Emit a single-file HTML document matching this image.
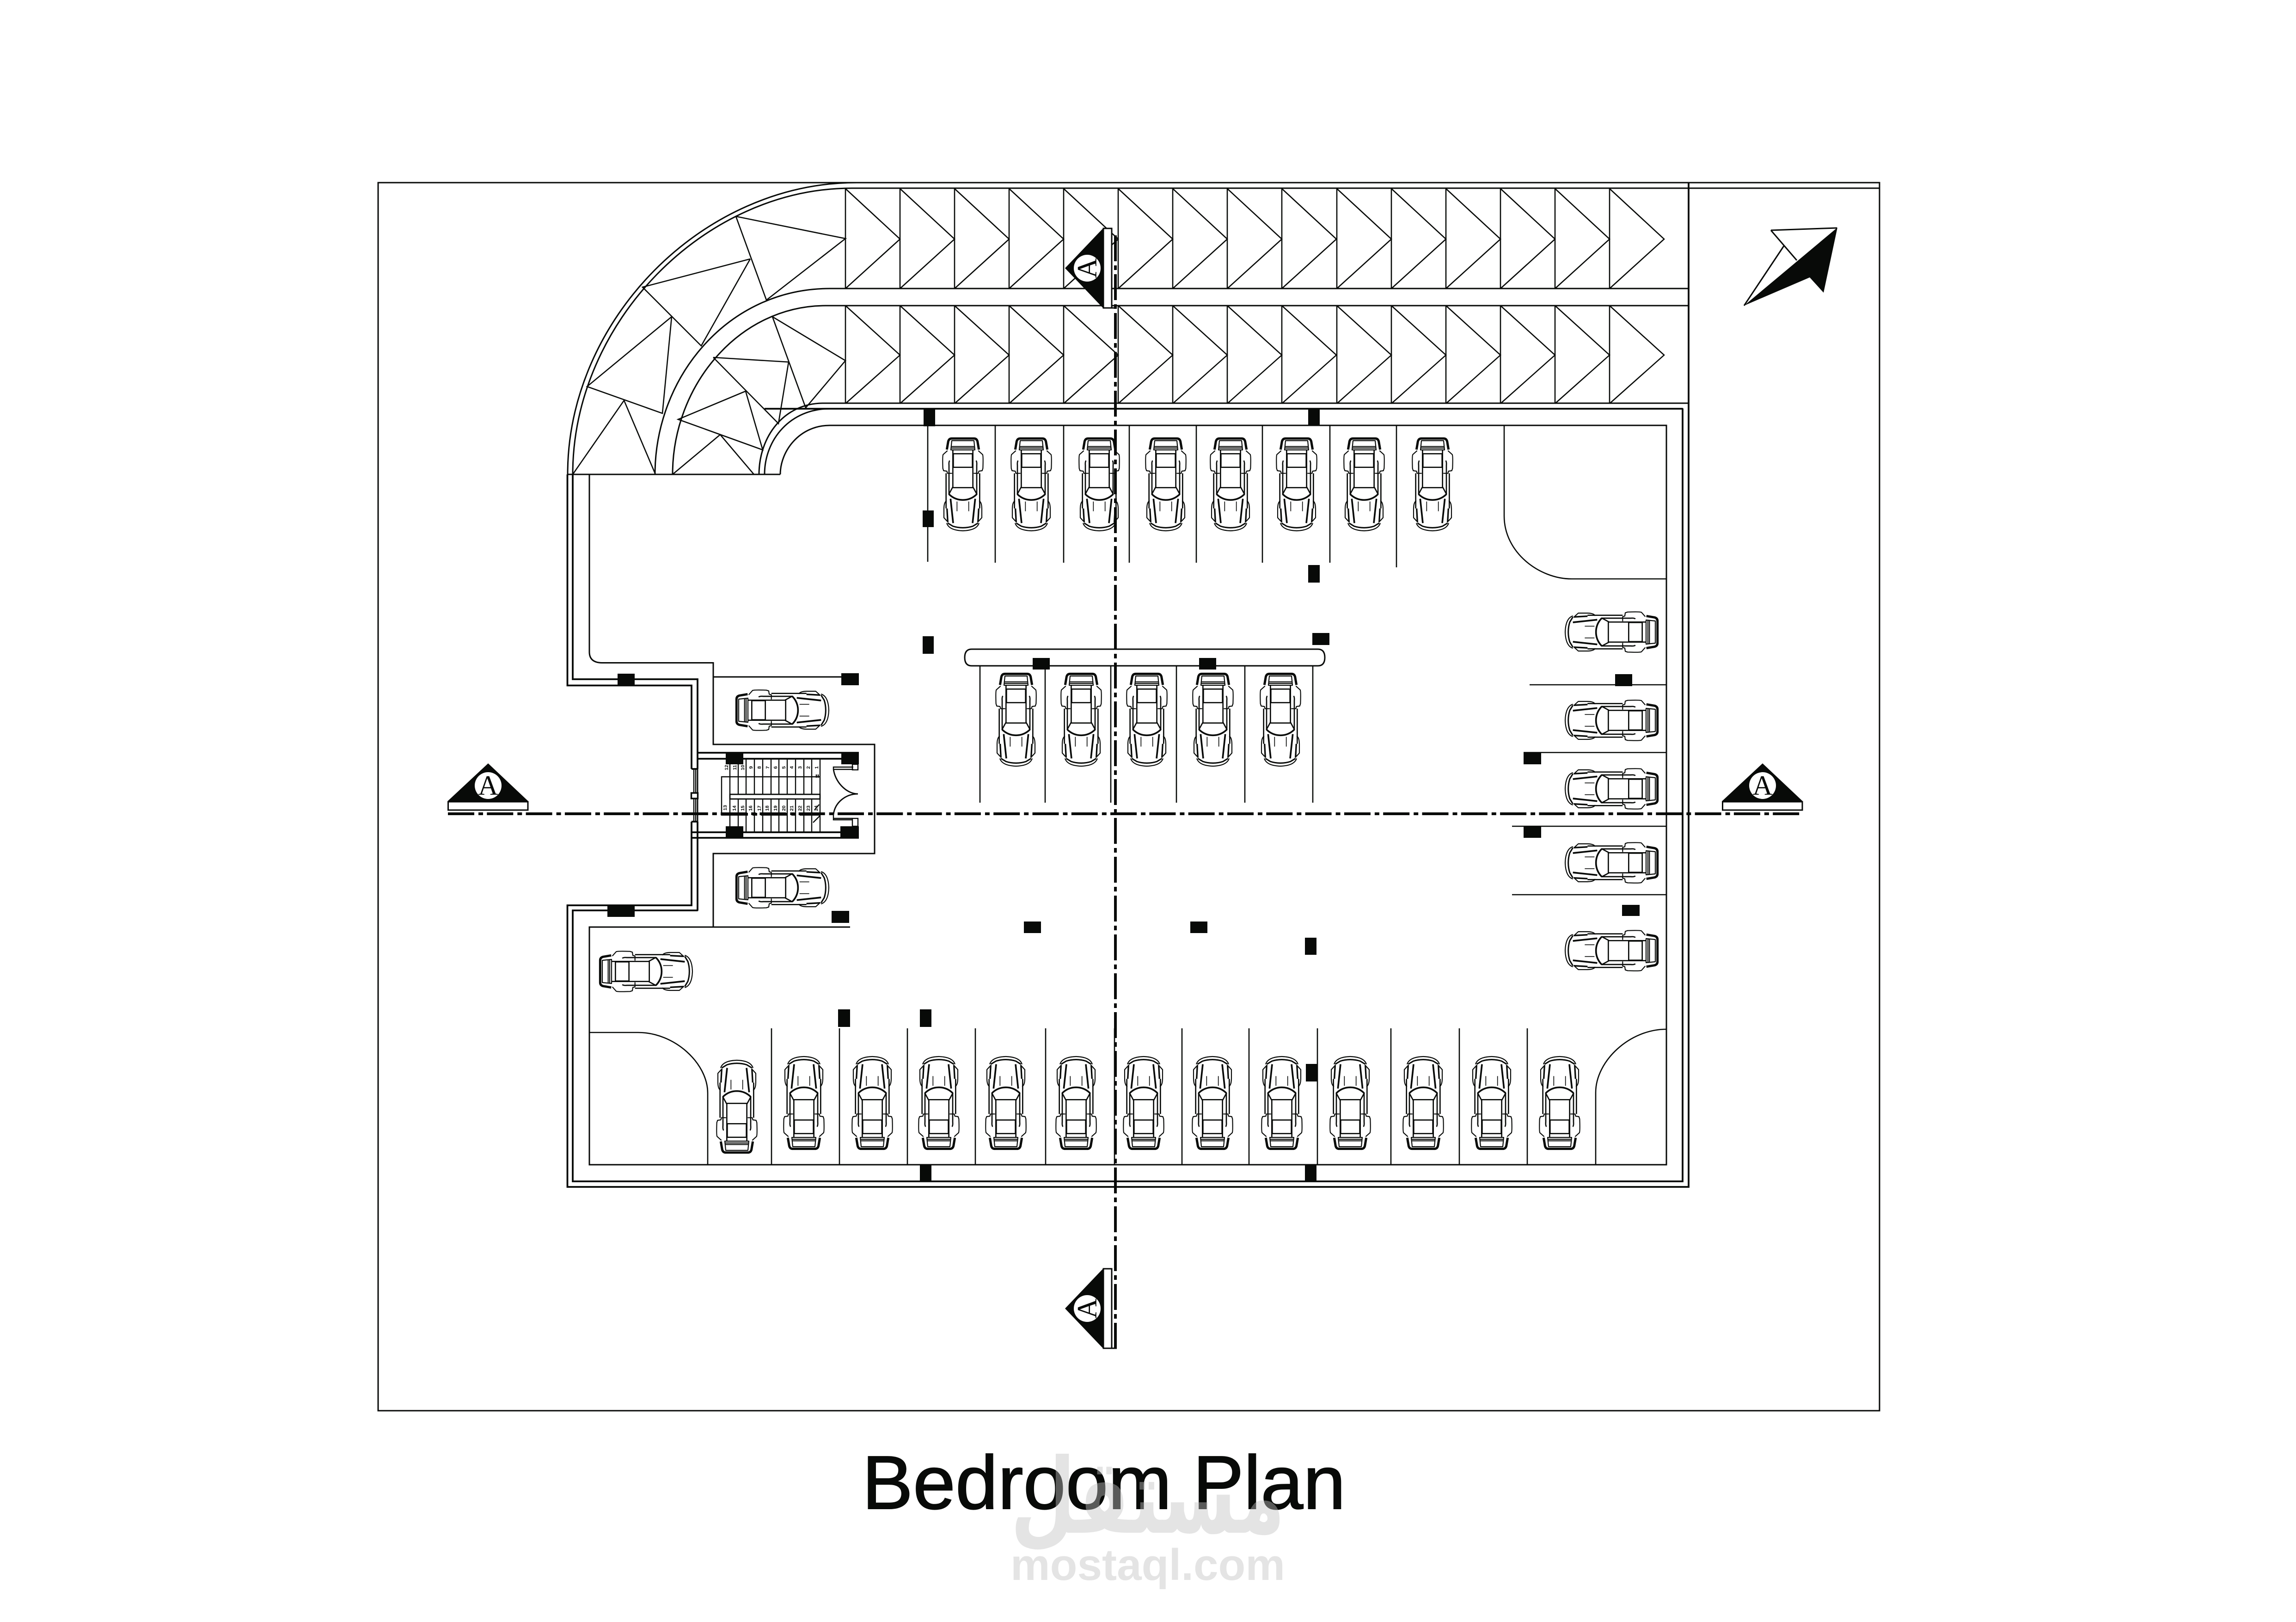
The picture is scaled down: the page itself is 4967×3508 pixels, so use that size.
<!DOCTYPE html>
<html><head><meta charset="utf-8"><style>html,body{margin:0;padding:0;background:#fff}svg{display:block}</style></head><body>
<svg xmlns="http://www.w3.org/2000/svg" width="4967" height="3508" viewBox="0 0 4967 3508">
<defs>
<g id="h" fill="none" stroke="#080a08" stroke-linejoin="round">
<path d="M250,146H178Q160,146 155,165L146,218" stroke-width="15"/>
<path d="M250,160H178L172,220H250M172,198H250M172,208H250" stroke-width="6.5"/>
<path d="M185,222V460L158,510" stroke-width="8"/>
<path d="M250,245H188V333H250" stroke-width="8"/>
<path d="M150,225L122,250Q117,258 120,340L125,355L146,358L150,372H180" stroke-width="6.5"/>
<path d="M165,290Q158,295 160,320V510M141,372V600" stroke-width="8"/>
<path d="M250,465H180" stroke-width="8"/>
<path d="M160,508Q198,545 250,545" stroke-width="11"/>
<path d="M170,537L187,695" stroke-width="11"/>
<path d="M212,555V618" stroke-width="5"/>
<path d="M145,550Q128,558 127,600L127,660L147,682" stroke-width="6.5"/>
<path d="M147,600L152,690" stroke-width="10"/>
<path d="M145,695Q160,742 250,745" stroke-width="6.5"/>
<path d="M152,695L185,715Q215,725 250,725" stroke-width="9"/>
</g>
<g id="c" transform="scale(.3333) translate(-250,-442)"><use href="#h"/><use href="#h" transform="translate(500,0) scale(-1,1)"/></g>
<g id="chev" fill="none" stroke="#080a08" stroke-width="2.6"><path d="M0,0V214M0,0L118,108L0,214"/></g>
<g id="mk"><path d="M1056,1651L1143,1733H968Z" fill="#080a08"/><rect x="969.5" y="1734" width="172.5" height="18" fill="#fff" stroke="#080a08" stroke-width="3"/><circle cx="1056" cy="1699" r="29" fill="#fff"/></g>
<g id="mv"><path d="M2304,2830L2387,2743V2917Z" fill="#080a08"/><rect x="2387" y="2744" width="18" height="172" fill="#fff" stroke="#080a08" stroke-width="3"/><path d="M2405,2916H2416" stroke="#080a08" stroke-width="3"/><circle cx="2352" cy="2830" r="29" fill="#fff"/></g>
</defs>
<rect width="4967" height="3508" fill="#fff"/>

<!-- frame -->
<g fill="none" stroke="#080a08" stroke-width="3">
<path d="M1853,395H818V3051H4066V395H1853"/>
<path d="M1228,1026C1228,691 1520,395 1853,395"/>
<path d="M1239,1026C1239,698 1523,407 1843,407H4066"/>
<path d="M1417,1026C1417,815 1575,624 1795,624H3653"/>
<path d="M1455,1026C1455,832 1600,661 1786,661H3653"/>
<path d="M1642,1026C1642,945 1695,872 1781,872H3653"/>
<path d="M1654,1026C1654,950 1710,884 1795,884H3640V2555H1239V1969H1509V1663"/>
<path d="M1688,1026C1688,975 1730,920 1795,920H3605V2519H1275V2005H1839"/>
<path d="M1228,1026H1688"/>
<path d="M1275,1026V1410Q1275,1433 1302,1433.5H1543V1610H1892V1846H1543V2005"/>
<path d="M1543,1464H1820"/>
</g>
<g fill="none" stroke="#080a08" stroke-width="3.8">
<path d="M3653,395V2567H1227.5V1958H1496V1777M1496,1663V1482.5H1227.5V1026"/>
<path d="M1239,1026V1469H1509V1663"/>
<path d="M1509,1777V1969"/>
<path d="M1509,1628H1858M1509,1641H1858M1496,1800H1858M1496,1812H1858"/>
<path d="M1496,1663H1509M1496,1777H1509"/>
<path d="M3640,884V2555H1239V1969H1509M1654,884H3640"/>
</g>
<!-- curved triangles -->
<g fill="none" stroke="#080a08" stroke-width="2.6">
<path d="M1592,468L1829,516L1658,649L1592,468"/>
<path d="M1623,560L1390,621L1517,748L1623,560"/>
<path d="M1453,685L1270,836L1433,894L1453,685"/>
<path d="M1239,1026L1350,866L1418,1026"/>
<path d="M1671,685L1829,780L1743,882L1671,685"/>
<path d="M1543,773L1706,783L1684,916L1543,773"/>
<path d="M1613,846L1467,907L1650,973L1613,846"/>
<path d="M1455,1026L1558,940L1631,1026"/>
<path d="M2007,922V1215M2153,920V1217M2301,920V1217M2443,920V1217M2588,920V1217M2731,920V1217M2877,920V1217M3021,920V1227"/>
<path d="M2120,1440V1736M2261,1440V1736M2403,1440V1736M2545,1440V1736M2693,1440V1736M2840,1440V1736"/>
<path d="M1669,2224V2519M1816,2224V2519M1963,2224V2519M2110,2224V2519M2262,2224V2519M2411,2224V2519M2557,2224V2519M2702,2224V2519M2850,2224V2519M3009,2224V2519M3157,2224V2519M3304,2224V2519"/>
<path d="M3254,920V1116C3254,1195 3330,1252 3400,1252H3605"/>
<path d="M1275,2233H1380C1460,2233 1531,2300 1531,2364V2519"/>
<path d="M3605,2226C3525,2226 3452,2295 3452,2363V2519"/>
<path d="M3309,1481H3605M3296,1627.5H3605M3271,1787H3605M3271,1935H3605"/>
<path d="M2102,1404H2851Q2866,1404 2866,1422Q2866,1440 2851,1440H2102Q2087,1440 2087,1422Q2087,1404 2102,1404Z" stroke-width="3"/>
</g>
<!-- chevrons -->
<use href="#chev" transform="translate(1829,408) scale(1,1.01)"/><use href="#chev" transform="translate(1947,408) scale(1,1.01)"/><use href="#chev" transform="translate(2065,408) scale(1,1.01)"/><use href="#chev" transform="translate(2183,408) scale(1,1.01)"/><use href="#chev" transform="translate(2301,408) scale(1,1.01)"/><use href="#chev" transform="translate(2419,408) scale(1,1.01)"/><use href="#chev" transform="translate(2537,408) scale(1,1.01)"/><use href="#chev" transform="translate(2655,408) scale(1,1.01)"/><use href="#chev" transform="translate(2773,408) scale(1,1.01)"/><use href="#chev" transform="translate(2892,408) scale(1,1.01)"/><use href="#chev" transform="translate(3010,408) scale(1,1.01)"/><use href="#chev" transform="translate(3128,408) scale(1,1.01)"/><use href="#chev" transform="translate(3246,408) scale(1,1.01)"/><use href="#chev" transform="translate(3364,408) scale(1,1.01)"/><use href="#chev" transform="translate(3482,408) scale(1,1.01)"/>
<use href="#chev" transform="translate(1829,661) scale(1,.99)"/><use href="#chev" transform="translate(1947,661) scale(1,.99)"/><use href="#chev" transform="translate(2065,661) scale(1,.99)"/><use href="#chev" transform="translate(2183,661) scale(1,.99)"/><use href="#chev" transform="translate(2301,661) scale(1,.99)"/><use href="#chev" transform="translate(2419,661) scale(1,.99)"/><use href="#chev" transform="translate(2537,661) scale(1,.99)"/><use href="#chev" transform="translate(2655,661) scale(1,.99)"/><use href="#chev" transform="translate(2773,661) scale(1,.99)"/><use href="#chev" transform="translate(2892,661) scale(1,.99)"/><use href="#chev" transform="translate(3010,661) scale(1,.99)"/><use href="#chev" transform="translate(3128,661) scale(1,.99)"/><use href="#chev" transform="translate(3246,661) scale(1,.99)"/><use href="#chev" transform="translate(3364,661) scale(1,.99)"/><use href="#chev" transform="translate(3482,661) scale(1,.99)"/>

<!-- stair -->
<g fill="none" stroke="#080a08" stroke-width="2.4">
<path d="M1579,1641V1718M1597,1641V1718M1614,1641V1718M1632,1641V1718M1650,1641V1718M1668,1641V1718M1685,1641V1718M1703,1641V1718M1721,1641V1718M1739,1641V1718M1756,1641V1718M1774,1641V1718"/>
<path d="M1579,1728V1800M1597,1728V1800M1614,1728V1800M1632,1728V1800M1650,1728V1800M1668,1728V1800M1685,1728V1800M1703,1728V1800M1721,1728V1800M1739,1728V1800M1756,1728V1800M1774,1728V1800"/>
<path d="M1561,1764V1680H1774"/>
<rect x="1579" y="1718" width="195" height="10" stroke-width="2.8"/>
<path d="M1501,1663V1777M1505,1663V1777"/>
<rect x="1495.5" y="1715" width="14" height="12" fill="#fff" stroke-width="3.4"/>
<path d="M1803,1663C1806,1690 1830,1717 1856,1717C1830,1717 1806,1735 1803,1762" stroke-width="2.8"/>
<path d="M1803,1663V1659H1846M1803,1664H1846M1803,1762V1773H1844M1803,1770H1844"/>
<rect x="1844" y="1653" width="12" height="12"/><rect x="1844" y="1770" width="12" height="17"/>
<path d="M1759,1779L1774,1764M1762,1752L1772,1740"/>
<path d="M1766,1675V1682M1770,1675V1682"/>
</g>
<g fill="#080a08">
<rect x="1561" y="1758" width="57" height="6"/><rect x="1628" y="1758" width="10" height="6"/><rect x="1646" y="1758" width="56" height="6"/><rect x="1712" y="1758" width="8" height="6"/><rect x="1730" y="1758" width="44" height="6"/>
</g>
<g font-family="'Liberation Sans',sans-serif" font-weight="700" font-size="10.5" fill="#080a08" text-anchor="middle">
<text transform="translate(1575,1660) rotate(-90)">12</text><text transform="translate(1593,1660) rotate(-90)">11</text><text transform="translate(1610,1660) rotate(-90)">10</text><text transform="translate(1628,1660) rotate(-90)">9</text><text transform="translate(1646,1660) rotate(-90)">8</text><text transform="translate(1664,1660) rotate(-90)">7</text><text transform="translate(1681,1660) rotate(-90)">6</text><text transform="translate(1699,1660) rotate(-90)">5</text><text transform="translate(1716,1660) rotate(-90)">4</text><text transform="translate(1734,1660) rotate(-90)">3</text><text transform="translate(1752,1660) rotate(-90)">2</text><text transform="translate(1770,1660) rotate(-90)">1</text>
<text transform="translate(1572,1747) rotate(-90)">13</text><text transform="translate(1592,1748) rotate(-90)">14</text><text transform="translate(1610,1748) rotate(-90)">15</text><text transform="translate(1627,1748) rotate(-90)">16</text><text transform="translate(1646,1748) rotate(-90)">17</text><text transform="translate(1663,1748) rotate(-90)">18</text><text transform="translate(1681,1748) rotate(-90)">19</text><text transform="translate(1699,1748) rotate(-90)">20</text><text transform="translate(1716,1748) rotate(-90)">21</text><text transform="translate(1734,1748) rotate(-90)">22</text><text transform="translate(1752,1748) rotate(-90)">23</text><text transform="translate(1769,1748) rotate(-90)">24</text>
</g>

<!-- cars -->
<use href="#c" transform="translate(2083,1047)"/><use href="#c" transform="translate(2231,1047)"/><use href="#c" transform="translate(2378,1047)"/><use href="#c" transform="translate(2522,1047)"/><use href="#c" transform="translate(2662,1047)"/><use href="#c" transform="translate(2805,1047)"/><use href="#c" transform="translate(2951,1047)"/><use href="#c" transform="translate(3099,1047)"/>
<use href="#c" transform="translate(2198,1556)"/><use href="#c" transform="translate(2339,1556)"/><use href="#c" transform="translate(2481,1556)"/><use href="#c" transform="translate(2624,1556)"/><use href="#c" transform="translate(2770,1556)"/>
<use href="#c" transform="translate(3487,1367) rotate(90)"/><use href="#c" transform="translate(3487,1558) rotate(90)"/><use href="#c" transform="translate(3487,1706) rotate(90)"/><use href="#c" transform="translate(3487,1866) rotate(90)"/><use href="#c" transform="translate(3487,2056) rotate(90)"/>
<use href="#c" transform="translate(1692,1536) rotate(-90)"/><use href="#c" transform="translate(1692,1920) rotate(-90)"/><use href="#c" transform="translate(1397,2101) rotate(-90)"/>
<use href="#c" transform="translate(1594,2394) rotate(180)"/><use href="#c" transform="translate(1739,2386) rotate(180)"/><use href="#c" transform="translate(1887,2386) rotate(180)"/><use href="#c" transform="translate(2031,2386) rotate(180)"/><use href="#c" transform="translate(2176,2386) rotate(180)"/><use href="#c" transform="translate(2328,2386) rotate(180)"/><use href="#c" transform="translate(2474,2386) rotate(180)"/><use href="#c" transform="translate(2623,2386) rotate(180)"/><use href="#c" transform="translate(2773,2386) rotate(180)"/><use href="#c" transform="translate(2921,2386) rotate(180)"/><use href="#c" transform="translate(3079,2386) rotate(180)"/><use href="#c" transform="translate(3227,2386) rotate(180)"/><use href="#c" transform="translate(3374,2386) rotate(180)"/>

<!-- columns -->
<g fill="#080a08">
<rect x="1336" y="1457" width="37" height="26"/><rect x="1314" y="1958" width="59" height="25"/>
<rect x="1570" y="1628" width="38" height="25"/><rect x="1820" y="1628" width="38" height="25"/><rect x="1570" y="1787" width="38" height="25"/><rect x="1818" y="1787" width="40" height="25"/>
<rect x="1820" y="1456" width="38" height="26"/><rect x="1799" y="1970" width="38" height="26"/>
<rect x="1998" y="885" width="25" height="37"/><rect x="1996" y="1104" width="24" height="36"/><rect x="1996" y="1376" width="24" height="38"/>
<rect x="2830" y="885" width="25" height="36"/><rect x="2830" y="1222" width="25" height="38"/>
<rect x="2234" y="1423" width="37" height="25"/><rect x="2594" y="1423" width="37" height="25"/><rect x="2839" y="1369" width="37" height="26"/>
<rect x="3494" y="1458" width="37" height="26"/><rect x="3296" y="1628" width="38" height="25"/><rect x="3296" y="1788" width="38" height="24"/><rect x="3509" y="1957" width="38" height="24"/>
<rect x="1813" y="2183" width="26" height="38"/><rect x="1990" y="2183" width="25" height="38"/>
<rect x="2215" y="1993" width="37" height="25"/><rect x="2575" y="1993" width="37" height="25"/><rect x="2823" y="2028" width="25" height="37"/>
<rect x="2825" y="2301" width="25" height="38"/><rect x="2823" y="2520" width="25" height="36"/><rect x="1990" y="2520" width="25" height="36"/>
</g>

<!-- section lines -->
<path d="M969,1760H3898" stroke="#080a08" stroke-width="6" stroke-dasharray="57 9 10 8.3" fill="none"/>
<path d="M2413,2917V500" stroke="#080a08" stroke-width="6" stroke-dasharray="56 9 10 9" fill="none"/>
<use href="#mk"/><use href="#mk" transform="translate(2757,0)"/>
<use href="#mv"/><use href="#mv" transform="translate(0,-2250)"/>
<g font-family="'Liberation Serif',serif" font-size="60" fill="#080a08" text-anchor="middle">
<text x="1056" y="1719">A</text><text x="3813" y="1719">A</text>
<text transform="translate(2372,2830) rotate(-90)">A</text>
<text transform="translate(2372,580) rotate(-90)">A</text>
</g>

<!-- north arrow -->
<path d="M3831,498L3974,493M3831,498L3887,563M3859,532L3773,661" fill="none" stroke="#080a08" stroke-width="3"/>
<path d="M3975,492L3945,633L3915,600L3773,661Z" fill="#080a08"/>

<!-- title -->
<text x="1865" y="3263" font-family="'Liberation Sans',sans-serif" font-size="164" fill="#080a08" stroke="#080a08" stroke-width="2" textLength="1046" lengthAdjust="spacingAndGlyphs">Bedroom Plan</text>

<!-- watermark -->
<g fill="rgb(195,195,195)" opacity=".435">
<text x="2483" y="3315" text-anchor="middle" font-family="'DejaVu Sans',sans-serif" font-weight="700" font-size="225" textLength="594" lengthAdjust="spacingAndGlyphs" direction="rtl">مستقل</text>
<text x="2186" y="3417" font-family="'Liberation Sans',sans-serif" font-weight="700" font-size="96" textLength="594" lengthAdjust="spacingAndGlyphs">mostaql.com</text>
</g>
</svg>
</body></html>
